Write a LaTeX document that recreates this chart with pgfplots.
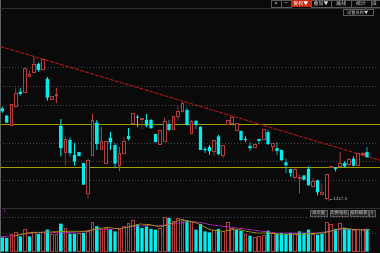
\documentclass[border=0pt]{standalone}
\usepackage{pgfplots}
\pgfplotsset{compat=1.18}
\usepackage{pgfplotstable}
\usepackage{fontspec}
\setmainfont{Liberation Sans}
\newfontfamily\cjk{Noto Sans CJK SC}
\definecolor{bg}{HTML}{0A0A0A}
\definecolor{cy}{HTML}{00EEEE}
\definecolor{rd}{HTML}{B43C3C}
\definecolor{tl}{HTML}{9A1818}
\definecolor{yl}{HTML}{A0A000}
\definecolor{gridc}{HTML}{444444}
\definecolor{sep}{HTML}{2E2E2E}
\definecolor{mg}{HTML}{C020C0}
\definecolor{btn}{HTML}{5A5A5A}
\definecolor{btnred}{HTML}{C02A10}

% cyan (falling) candles: x, body top, body bottom, high, low (pixel rows)
\pgfplotstableread{
x bt bb hi lo
2.0 108.5 111.5 106.5 113
6.5 115.7 122.7 115 123
20.0 91.7 94 88 95.7
38.1 64.3 70 62.7 71.7
47.1 79 97.7 77.3 100.7
60.6 126 148.3 119.3 156.7
69.7 140 153.3 137.3 156.7
74.2 155 161.7 143.3 166
78.7 152.3 156.3 152.3 156.3
83.2 163.3 185 163.3 185
96.7 122.7 144.3 120 150
110.2 138 142.7 132.3 150
114.8 145.3 164 143.3 168.3
128.3 136 139.3 128.3 140.7
137.3 116.8 117.8 115 127.3
146.3 120 125.7 114.3 127.3
150.8 120 128.3 119 129
155.3 134.3 142.3 134.3 142.3
168.9 124.3 130 120 131.7
186.9 110 125 107.7 126
195.9 121 125 120 129
200.4 126.7 150 126.7 150
205.0 149 150.7 146.7 153.3
209.5 147.3 151.7 145.3 155
218.5 136.7 154.3 135 155
241.0 131 140 131 141.7
245.5 139 140 136.7 142.3
250.1 146 148.3 142.7 151
259.1 139 141 139 144
268.1 132.3 144.3 130 145
277.1 148.3 151 142.3 155
281.6 150 160.7 150 160.7
286.1 162.7 165.7 159 173.3
290.6 169.3 173.3 169.3 177
304.2 175.7 180 175.7 181
308.7 169.3 185.7 166.7 185.7
317.7 180.7 192.7 180 195.7
335.7 167.7 169.3 167.7 171.7
344.8 163.3 166.7 161.7 167.7
353.8 159 166 156.7 166.7
367.3 152.3 157.7 147.3 157.7
}\cyantab

% red (rising) candles
\pgfplotstableread{
x bt bb hi lo
11.0 104 125.7 104 125.7
15.5 93 106.7 87.7 107.7
24.6 68.3 92.3 68.3 92.3
29.1 74 76.7 71 77.3
33.6 64.3 72.3 56.7 72.7
42.6 59.3 69.3 59.3 69.3
51.6 96.3 99.3 96.3 99.3
56.1 94.5 95.5 88.3 103.3
65.1 139.3 152.7 136.7 166
87.7 161 194 159 198.3
92.2 121 155.7 114 155.7
101.2 141.3 149.3 127.3 150
105.7 141.3 164 141.3 164
119.3 154 165.7 147.3 171.7
123.8 141.7 153.3 137.3 154.3
132.8 113.3 123.3 113.3 123.3
141.8 118.8 119.8 118.5 129
159.9 131 144.3 130 145
164.4 121.7 141.7 117.7 141.7
173.4 116.7 130 116.7 130
177.9 111.7 116.7 105.7 121
182.4 103.3 111 101.7 112.3
191.4 122 134 120 134.3
214.0 141 151.7 140 156.7
223.0 146 156 145 158.3
227.5 121 124.3 121 124.3
232.0 117.3 123.3 116.5 123.3
236.5 123.3 130.7 123.3 130.7
254.6 144.3 147.7 144.3 147.7
263.6 129.3 139.3 129.3 139.3
272.6 143.3 146.7 143.3 151.7
295.2 169.3 177.7 168.3 180
299.7 177.2 178.2 175 194
313.2 181.7 186.7 178 188
322.2 192.7 195 183.3 195.7
326.7 174.3 199 174.3 200
331.2 166.8 167.8 166.5 168.5
340.3 163.3 166.7 152.3 166.7
349.3 159.3 165 158.3 166.7
358.3 153.3 166 153.3 166
362.8 153.8 154.8 152.7 156.7
}\redtab

% volume bars: x, top row
\pgfplotstableread{
x top
2.0 237.7
6.5 238.3
20.0 236.7
29.1 236.7
38.1 234.3
47.1 230
60.6 224
69.7 234
74.2 234
83.2 233.3
96.7 226.7
110.2 229.3
114.8 231.7
137.3 225
141.8 228.3
146.3 226.7
150.8 229.3
155.3 230
168.9 218.3
186.9 220.7
195.9 230
200.4 224.3
205.0 231.7
209.5 232.7
218.5 229.3
236.5 230
241.0 231
250.1 236
268.1 231
277.1 234
281.6 233.3
286.1 234
290.6 233.3
299.7 231.7
304.2 233.3
308.7 230
317.7 235
322.2 234
335.7 229.3
344.8 228.3
349.3 229.3
367.3 229.3
}\cyanvol

\pgfplotstableread{
x top
11.0 235
15.5 232.3
24.6 229.3
33.6 232.3
42.6 232.3
51.6 235
56.1 235
65.1 228.3
78.7 233.3
87.7 231.7
92.2 222.3
101.2 229.3
105.7 228.3
119.3 229.3
123.8 226.7
128.3 223.3
132.8 220.7
159.9 228.3
164.4 217.3
173.4 221.7
177.9 218.3
182.4 219.3
191.4 221.7
214.0 230.7
223.0 231.7
227.5 222.3
232.0 229
245.5 235
254.6 237.3
259.1 236.7
263.6 236
272.6 234
295.2 233.3
313.2 235
326.7 222.7
331.2 225
340.3 224
353.8 230.7
358.3 229.3
362.8 230
}\redvol

\pgfplotsset{
  px/.style={width=380bp,height=253bp,scale only axis,
    xmin=0,xmax=380,ymin=0,ymax=253,y dir=reverse,
    axis lines=none,xtick=\empty,ytick=\empty,clip=true},
}

\begin{document}
\begin{tikzpicture}
% ---------- base layer ----------
\begin{axis}[px]
\fill[bg] (axis cs:0,0) rectangle (axis cs:380,253);
\pgfplotsinvokeforeach{67.3,86.3,105.3,143.2,161.8,180.7,217.3,234}{
  \addplot[gridc, line width=0.5bp, dash pattern=on 0.8bp off 2.2bp] coordinates {(0,#1)(376,#1)};
}
\addplot[sep, line width=0.8bp] coordinates {(0,8.2)(380,8.2)};
\addplot[sep, line width=1bp] coordinates {(0,209.3)(380,209.3)};
\addplot[yl, line width=0.9bp] coordinates {(0,124.3)(380,124.3)};
\addplot[yl, line width=0.9bp] coordinates {(0,167.3)(380,167.3)};
\addplot[tl, line width=1.1bp, dash pattern=on 4bp off 1.2bp] coordinates {(0,46.5)(380,160.5)};
\end{axis}

% ---------- cyan wicks ----------
\begin{axis}[px, ybar stacked, bar width=0.8]
\addplot[draw=none, fill=none] table[x=x, y=hi] {\cyantab};
\addplot[draw=none, fill=cy] table[x=x, y expr={\thisrow{lo}-\thisrow{hi}}] {\cyantab};
\end{axis}
% ---------- cyan bodies ----------
\begin{axis}[px, ybar stacked, bar width=3.3]
\addplot[draw=none, fill=none] table[x=x, y=bt] {\cyantab};
\addplot[draw=none, fill=cy] table[x=x, y expr={max(\thisrow{bb}-\thisrow{bt},1)}] {\cyantab};
\end{axis}
% ---------- red wicks ----------
\begin{axis}[px, ybar stacked, bar width=0.8]
\addplot[draw=none, fill=none] table[x=x, y=hi] {\redtab};
\addplot[draw=none, fill=rd] table[x=x, y expr={\thisrow{lo}-\thisrow{hi}}] {\redtab};
\end{axis}
% ---------- red hollow bodies ----------
\begin{axis}[px, ybar stacked, bar width=2.7]
\addplot[draw=none, fill=none] table[x=x, y=bt] {\redtab};
\addplot[draw=rd, line width=0.65bp, fill=bg] table[x=x, y expr={max(\thisrow{bb}-\thisrow{bt},1)}] {\redtab};
\end{axis}
% ---------- volume ----------
\begin{axis}[px, ybar stacked, bar width=3.3]
\addplot[draw=none, fill=none] table[x=x, y=top] {\cyanvol};
\addplot[draw=none, fill=cy] table[x=x, y expr={252-\thisrow{top}}] {\cyanvol};
\end{axis}
\begin{axis}[px, ybar stacked, bar width=2.7]
\addplot[draw=none, fill=none] table[x=x, y=top] {\redvol};
\addplot[draw=rd, line width=0.65bp, fill=bg] table[x=x, y expr={252-\thisrow{top}}] {\redvol};
\end{axis}

% ---------- overlays ----------
\begin{axis}[px, clip=false]
\addplot[mg, line width=0.7bp] coordinates {
(0,237.3)(13.3,236)(20,235)(33.3,233.3)(46.7,232.3)(60,233.3)(80,232.3)(93.3,230)
(106.7,230)(120,228.7)(133.3,226.7)(146.7,226)(160,226)(173.3,224.3)(190,221.7)
(200,222.7)(210,225)(223.3,226.7)(236.7,228.3)(250,230)(263.3,231.7)(276.7,233.3)
(296.7,233.3)(316.7,233.3)(330,231.7)(343.3,229.3)(356.7,230)(370,230)};
\addplot[yl, line width=0.7bp] coordinates {
(13.3,236.7)(20,235)(26.7,233.3)(33.3,232.7)(50,232.3)(66.7,231.7)(86.7,231.7)
(93.3,230)(106.7,227.7)(120,229.3)(133.3,226)(140,224.3)(150,225)(160,227.3)
(173.3,223.3)(180,220)(190,221.7)(196.7,223.3)(203.3,226.7)(210,230)(223.3,231.7)
(236.7,229.3)(246.7,231.7)(256.7,233.3)(270,233.3)(283.3,235)(296.7,235)(310,234)
(323.3,233.3)(330,231.7)(336.7,230)(343.3,228.3)(350,229.3)(363.3,230.7)(370,230)};

% toolbar
\draw[btn, line width=0.5bp] (axis cs:271,0.3) rectangle (axis cs:281.5,7.5);
\draw[btn, line width=0.5bp] (axis cs:281.5,0.3) rectangle (axis cs:291,7.5);
\fill[btnred] (axis cs:291,0.3) rectangle (axis cs:311,7.5);
\draw[btn, line width=0.5bp] (axis cs:311,0.3) rectangle (axis cs:331.5,7.5);
\draw[btn, line width=0.5bp] (axis cs:331.5,0.3) rectangle (axis cs:351.5,7.5);
\draw[btn, line width=0.5bp] (axis cs:351.5,0.3) rectangle (axis cs:371,7.5);
\draw[btn, line width=0.5bp] (axis cs:371,0.3) rectangle (axis cs:380,7.5);
\node[text=white, font=\fontsize{6}{6}\selectfont, inner sep=0pt] at (axis cs:276.2,3.9) {+};
\node[text=white, font=\fontsize{6}{6}\selectfont, inner sep=0pt] at (axis cs:286.2,3.9) {\textendash};
\node[text=white, font=\cjk\fontsize{5}{5}\selectfont, inner sep=0pt] at (axis cs:301,3.9) {复权▼};
\node[text=white!85!black, font=\cjk\fontsize{5}{5}\selectfont, inner sep=0pt] at (axis cs:321.2,3.9) {叠加▼};
\node[text=white!85!black, font=\cjk\fontsize{5}{5}\selectfont, inner sep=0pt] at (axis cs:341.5,3.9) {画线};
\node[text=white!85!black, font=\cjk\fontsize{5}{5}\selectfont, inner sep=0pt] at (axis cs:361.2,3.9) {统计};
\node[text=white!85!black, font=\cjk\fontsize{5}{5}\selectfont, inner sep=0pt, anchor=west] at (axis cs:372,3.9) {设};
\draw[btn, line width=0.5bp] (axis cs:343,9.4) rectangle (axis cs:373,15.4);
\node[text=white!80!black, font=\cjk\fontsize{4.3}{4.3}\selectfont, inner sep=0pt] at (axis cs:358,12.4) {设置名称▼};

% bottom buttons of price panel
\draw[btn, fill=black!85!white, line width=0.5bp] (axis cs:310.7,210.7) rectangle (axis cs:327.3,216.2);
\draw[btn, fill=black!85!white, line width=0.5bp] (axis cs:330,210.7) rectangle (axis cs:348.5,216.2);
\draw[btn, fill=black!85!white, line width=0.5bp] (axis cs:350,210.7) rectangle (axis cs:368.5,216.2);
\draw[btn, fill=black!85!white, line width=0.5bp] (axis cs:369.3,210.7) rectangle (axis cs:375.5,216.2);
\node[text=white!80!black, font=\cjk\fontsize{4.3}{4.3}\selectfont, inner sep=0pt] at (axis cs:319,213.5) {成交量};
\node[text=white!80!black, font=\cjk\fontsize{4.3}{4.3}\selectfont, inner sep=0pt] at (axis cs:339.2,213.5) {切换指标};
\node[text=white!80!black, font=\cjk\fontsize{4.3}{4.3}\selectfont, inner sep=0pt] at (axis cs:359.2,213.5) {指标模板};
\node[text=white!80!black, font=\fontsize{4.3}{4.3}\selectfont, inner sep=0pt] at (axis cs:372.4,213.5) {X};

% low annotation
\draw[white!70!black, line width=0.4bp] (axis cs:328,200.5) -- (axis cs:333,199.3);
\node[text=white!75!black, font=\fontsize{4.5}{4.5}\selectfont, inner sep=0pt, anchor=west] at (axis cs:333.5,199.6) {1417.3};

% purple marker
\node[text=mg, font=\fontsize{6}{6}\selectfont, inner sep=0pt] at (axis cs:4.3,212.5) {$\uparrow$};
\end{axis}
\end{tikzpicture}
\end{document}
